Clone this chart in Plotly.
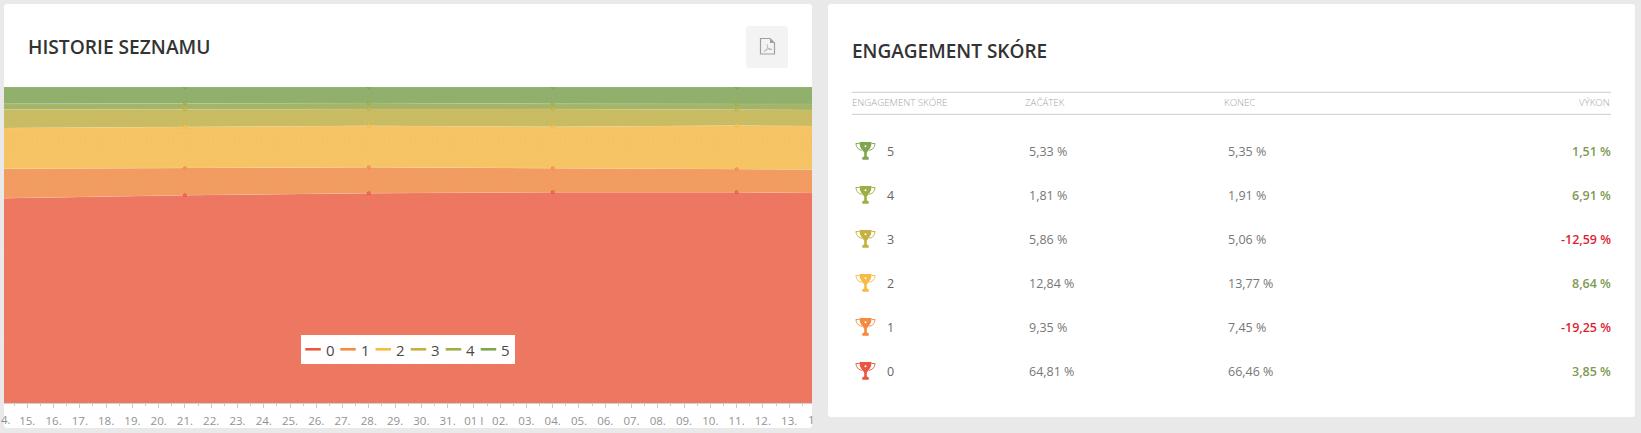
import datetime as dt
import plotly.graph_objects as go

W, H = 1641, 433

# ---- chart data (percent of list per engagement score) ----
dates = ["2021-01-14", "2021-01-21", "2021-01-28", "2021-02-04", "2021-02-11", "2021-02-14"]
score_0 = [64.81, 65.73, 66.40, 66.70, 66.70, 66.46]
score_1 = [9.35, 8.57, 8.20, 7.60, 7.30, 7.45]
score_2 = [12.84, 13.10, 13.10, 13.10, 13.80, 13.77]
score_3 = [5.86, 5.60, 5.30, 5.60, 4.90, 5.06]
score_4 = [1.81, 1.90, 1.90, 1.70, 1.90, 1.91]
score_5 = [5.33, 5.10, 5.10, 5.30, 5.40, 5.35]
series_names = ["0", "1", "2", "3", "4", "5"]
series_values = [score_0, score_1, score_2, score_3, score_4, score_5]
line_colors = ["#e9573f", "#f58b3f", "#f6bb42", "#c4b13f", "#a0ad45", "#7fa64c"]
fill_colors = ["#ee7761", "#f29c62", "#f6c464", "#c9bc62", "#a5b568", "#90b06c"]

# ---- axis ticks ----
tick_dates = ["2021-01-%02d" % d for d in range(15, 32)] + ["2021-02-%02d" % d for d in range(1, 14)]
tick_labels = ["%d." % d for d in range(15, 32)] + ["01 I"] + ["%02d." % d for d in range(2, 14)]
minor_dates = [(dt.datetime(2021, 1, 15, 12) + dt.timedelta(days=i)).strftime("%Y-%m-%d %H:%M") for i in range(-1, 30)]

# ---- table data ----
table_title = "ENGAGEMENT SKÓRE"
table_headers = ["ENGAGEMENT SKÓRE", "ZAČÁTEK", "KONEC", "VÝKON"]
table_scores = ["5", "4", "3", "2", "1", "0"]
table_start = ["5,33 %", "1,81 %", "5,86 %", "12,84 %", "9,35 %", "64,81 %"]
table_end = ["5,35 %", "1,91 %", "5,06 %", "13,77 %", "7,45 %", "66,46 %"]
table_perf = ["1,51 %", "6,91 %", "-12,59 %", "8,64 %", "-19,25 %", "3,85 %"]

FONT = "Open Sans"


def X(p):
    return p / W


def Y(p):
    return 1 - p / H


def round_rect(x0, y0, x1, y1, r):
    pts = [(x0 + r, y0), (x1 - r, y0), (x1, y0 + r), (x1, y1 - r), (x1 - r, y1), (x0 + r, y1), (x0, y1 - r), (x0, y0 + r)]
    a = [(X(u), Y(v)) for u, v in pts]
    return (f"M{a[0][0]},{a[0][1]} L{a[1][0]},{a[1][1]} Q{X(x1)},{Y(y0)} {a[2][0]},{a[2][1]} "
            f"L{a[3][0]},{a[3][1]} Q{X(x1)},{Y(y1)} {a[4][0]},{a[4][1]} "
            f"L{a[5][0]},{a[5][1]} Q{X(x0)},{Y(y1)} {a[6][0]},{a[6][1]} "
            f"L{a[7][0]},{a[7][1]} Q{X(x0)},{Y(y0)} {a[0][0]},{a[0][1]} Z")


def poly(points, close=True):
    s = "M" + " L".join(f"{X(u)},{Y(v)}" for u, v in points)
    return s + (" Z" if close else "")


shapes = []
annotations = []


def text(x, y, s, size=12.5, color="#777777", anchor="left", weight=400):
    annotations.append(dict(x=X(x), y=Y(y), xref="paper", yref="paper", text=s, showarrow=False,
                            xanchor=anchor, yanchor="middle", borderpad=0, borderwidth=0,
                            font=dict(family=FONT, size=size, color=color, weight=weight)))


def hline(x0, x1, y, color, width=1):
    shapes.append(dict(type="line", xref="paper", yref="paper", x0=X(x0), x1=X(x1), y0=Y(y), y1=Y(y),
                       line=dict(color=color, width=width)))


def trophy(cx, cy, color):
    # cup and stem
    shapes.append(dict(type="path", xref="paper", yref="paper", line=dict(width=0), fillcolor=color,
                       path=poly([(cx - 6, cy - 9), (cx + 6, cy - 9), (cx + 5.6, cy - 5), (cx + 3.7, cy - 1.5),
                                  (cx + 1.3, cy + 1.5), (cx + 1.3, cy + 5.5), (cx + 3.2, cy + 6.2), (cx + 3.2, cy + 8.8),
                                  (cx - 3.2, cy + 8.8), (cx - 3.2, cy + 6.2), (cx - 1.3, cy + 5.5), (cx - 1.3, cy + 1.5),
                                  (cx - 3.7, cy - 1.5), (cx - 5.6, cy - 5)])))
    # handles
    for sgn in (-1, 1):
        shapes.append(dict(type="path", xref="paper", yref="paper", line=dict(width=0.9, color=color),
                           path=poly([(cx + sgn * 6, cy - 7.5), (cx + sgn * 9.6, cy - 7.5), (cx + sgn * 9, cy - 4.5),
                                      (cx + sgn * 7, cy - 2), (cx + sgn * 3.7, cy - 0.5)], close=False)))
    # highlight
    shapes.append(dict(type="circle", xref="paper", yref="paper", fillcolor="#ffffff", line=dict(width=0),
                       x0=X(cx - 1), x1=X(cx + 1), y0=Y(cy - 3.7), y1=Y(cy - 5.7)))


# ---- cards ----
for rect in [(4, 4, 812, 428), (828, 4, 1635, 417)]:
    shapes.append(dict(type="path", xref="paper", yref="paper", layer="below", line=dict(width=0),
                       fillcolor="#ffffff", path=round_rect(*rect, 3)))

# ---- left card header ----
text(28, 46, "HISTORIE SEZNAMU", size=19.2, color="#333333", weight=600)
shapes.append(dict(type="path", xref="paper", yref="paper", layer="below", line=dict(width=0),
                   fillcolor="#f3f3f3", path=round_rect(746, 26, 788, 68, 3)))
shapes.append(dict(type="path", xref="paper", yref="paper", line=dict(width=1.2, color="#a0a0a0"),
                   path=poly([(760.5, 38.5), (770, 38.5), (774.5, 43), (774.5, 54), (760.5, 54)])))
shapes.append(dict(type="path", xref="paper", yref="paper", line=dict(width=0), fillcolor="#a0a0a0",
                   path=poly([(770, 38.5), (774.5, 43), (770, 43)])))
shapes.append(dict(type="path", xref="paper", yref="paper", line=dict(width=0.8, color="#c0a8a0"),
                   path=poly([(767, 44), (767.6, 48), (764, 51.5), (768, 49), (772, 49.5), (767.6, 48)], close=False)))

# ---- legend (swatches and labels) ----
shapes.append(dict(type="rect", xref="paper", yref="paper", x0=X(301), x1=X(515), y0=Y(335), y1=Y(364),
                   fillcolor="#ffffff", line=dict(width=0)))
legend_x = [305.3, 340.3, 375.5, 410.7, 445.7, 480.7]
for name, color, lx in zip(series_names, line_colors, legend_x):
    hline(lx, lx + 15.5, 349.3, color, 2.6)
    text(lx + 25.2, 349.5, name, size=15, color="#4a4a4a", anchor="center")

# clipped tick labels at both ends of the axis
text(0.5, 419, "4.", size=11.5, color="#929292")
text(808, 419, "1", size=11.5, color="#929292")

# ---- table ----
text(852, 51.3, table_title, size=19, color="#333333", weight=600)
hline(852, 1611, 92.3, "#cccccc")
hline(852, 1611, 114.3, "#cccccc")
for hx, htext in zip([852, 1024.5, 1223.5], table_headers[:3]):
    text(hx, 103, htext, size=9.7, color="#a6a6a6", weight=300)
text(1610, 103, table_headers[3], size=9.7, color="#a6a6a6", anchor="right", weight=300)

row_y = [151.6, 195.6, 239.6, 283.6, 327.6, 371.6]
row_colors = list(reversed(line_colors))
for ry, sc, st, en, pf, col in zip(row_y, table_scores, table_start, table_end, table_perf, row_colors):
    trophy(865.5, ry - 0.6, col)
    text(887, ry, sc, color="#666666")
    text(1029, ry, st)
    text(1228, ry, en)
    pf_col = "#dc1f35" if pf.startswith("-") else "#7f9a52"
    text(1611, ry, pf, color=pf_col, anchor="right", weight=600)

# ---- traces ----
fig = go.Figure()
for name, vals, lc, fc in zip(series_names, series_values, line_colors, fill_colors):
    fig.add_trace(go.Scatter(
        x=dates, y=vals, name=name, mode="lines+markers", stackgroup="main",
        line=dict(color="rgba(255,255,255,0.10)", width=1),
        marker=dict(size=3, color=fc, line=dict(color=lc, width=1)),
        fillcolor=fc,
        fillpattern=dict(shape=".", size=4.4, solidity=0.12, fgcolor="rgba(120,90,60,0.08)", bgcolor=fc),
        showlegend=False, hoverinfo="x+y+name",
    ))

base = dt.datetime(2021, 1, 15)
day_px = 26.27
x_left = base + dt.timedelta(days=(4 - 27.3) / day_px)
x_right = base + dt.timedelta(days=(812 - 27.3) / day_px)

fig.update_layout(
    width=W, height=H, margin=dict(l=0, r=0, t=0, b=0), autosize=False,
    paper_bgcolor="#e9e9e9", plot_bgcolor="rgba(0,0,0,0)",
    shapes=shapes, annotations=annotations, showlegend=False,
    font=dict(family=FONT),
    xaxis=dict(
        type="date", domain=[X(4), X(812)], range=[x_left, x_right], showgrid=False, zeroline=False,
        tickmode="array", tickvals=tick_dates, ticktext=tick_labels, ticks="outside", ticklen=4, tickwidth=1,
        tickcolor="#c8c8c8", showline=True, linecolor="#d0d0d0", linewidth=1, ticklabelstandoff=3,
        tickangle=0,
        tickfont=dict(family=FONT, size=11.5, color="#929292"),
        minor=dict(tickmode="array", tickvals=minor_dates, ticks="outside", ticklen=2, tickwidth=1, tickcolor="#c8c8c8", showgrid=False),
    ),
    yaxis=dict(domain=[Y(403), Y(87)], range=[0, 100], visible=False, fixedrange=True),
)

fig.write_html("out.html", post_script="document.body.style.margin='0';document.body.style.overflow='hidden';document.body.style.background='#e9e9e9';",
               config={"displayModeBar": False})
